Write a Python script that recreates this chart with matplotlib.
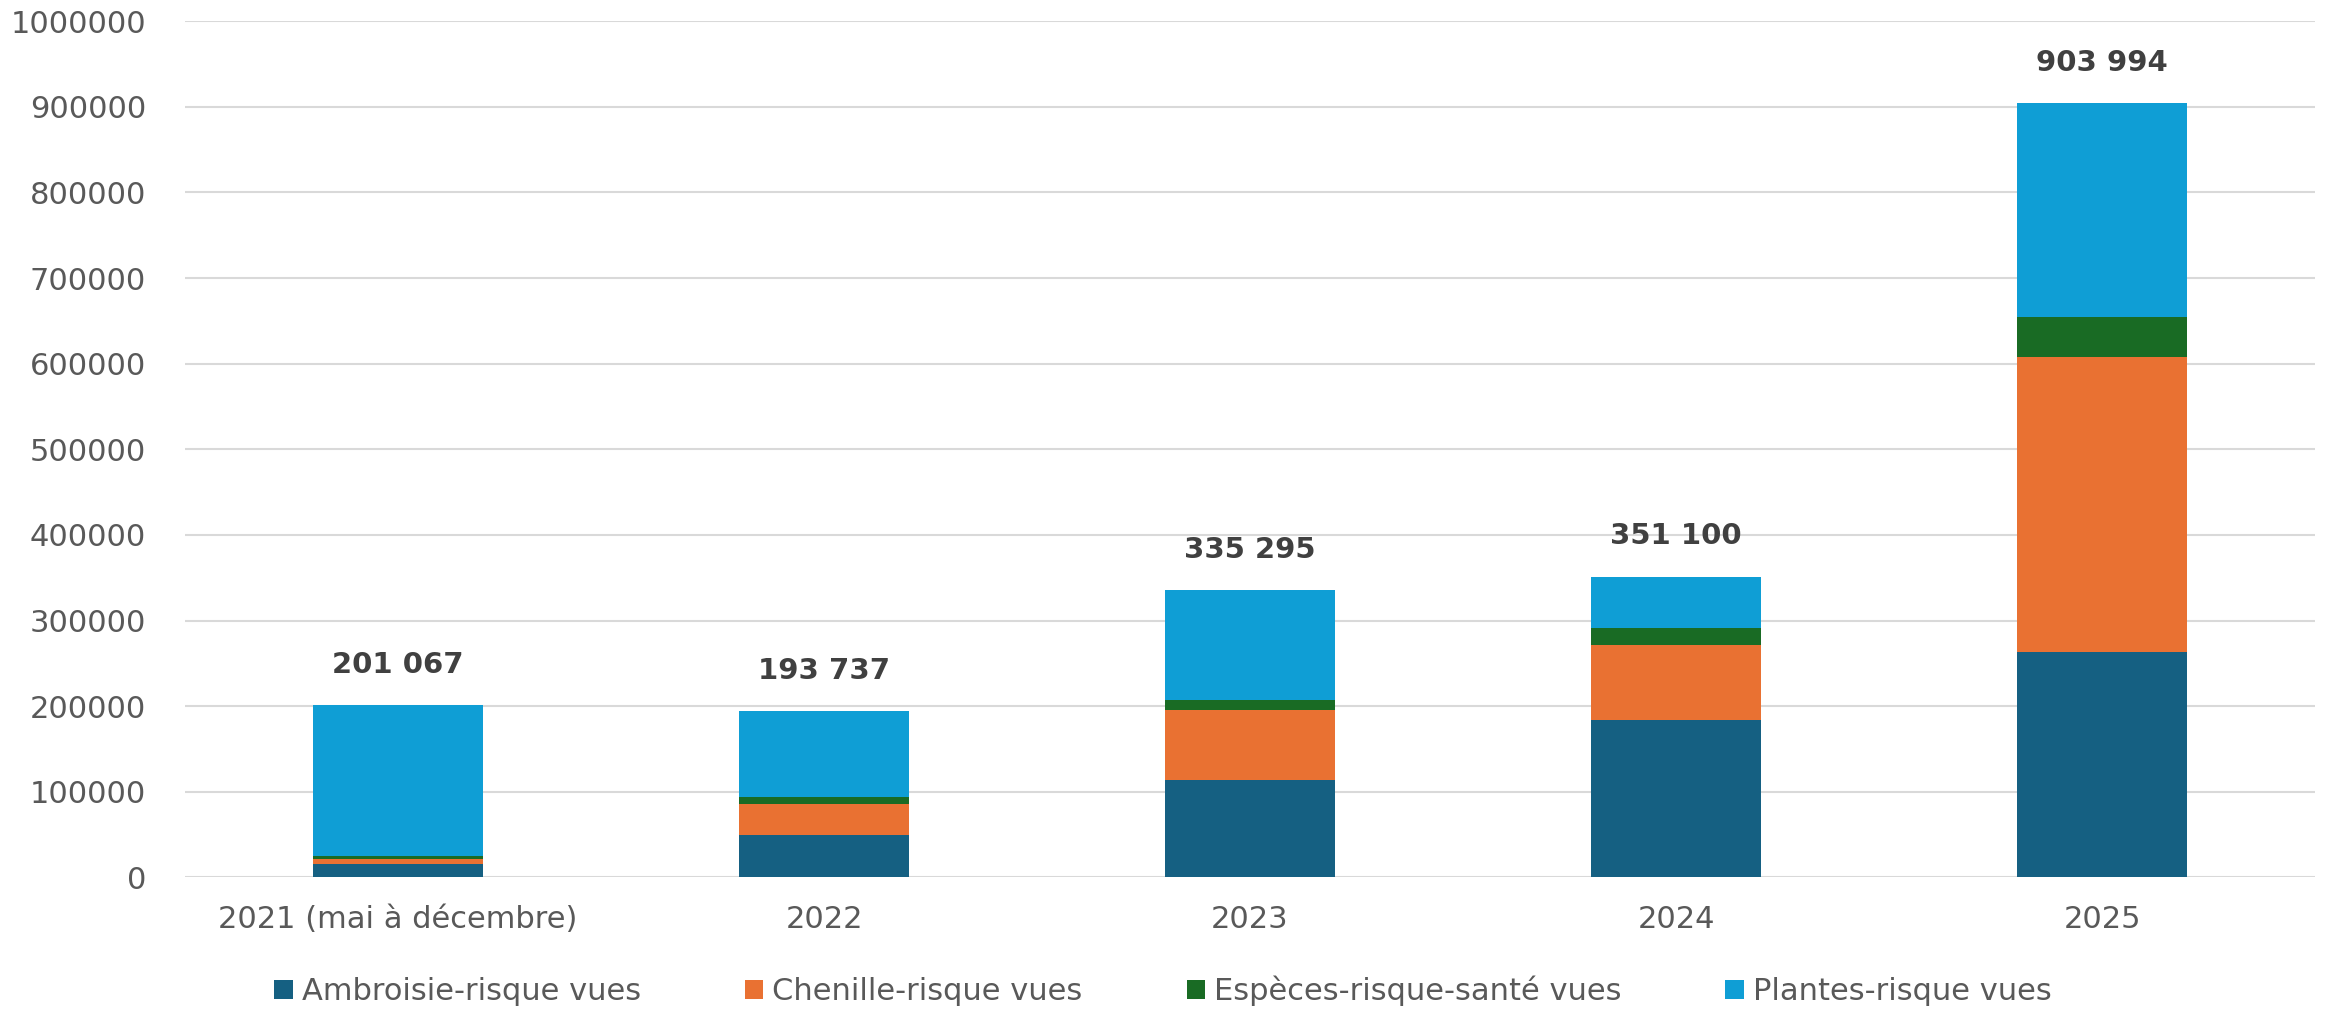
import matplotlib
matplotlib.use("Agg")
import matplotlib.pyplot as plt
import numpy as np

# data
years = ["2021 (mai à décembre)", "2022", "2023", "2024", "2025"]
ambroisie = [15600, 49100, 113300, 183400, 262700]
chenille = [5800, 37000, 82600, 87600, 344800]
especes = [3100, 7400, 10900, 19900, 46800]
totals = [201067, 193737, 335295, 351100, 903994]
plantes = [t - a - c - e for t, a, c, e in zip(totals, ambroisie, chenille, especes)]
total_labels = ["201 067", "193 737", "335 295", "351 100", "903 994"]

series_names = ["Ambroisie-risque vues", "Chenille-risque vues",
                "Espèces-risque-santé vues", "Plantes-risque vues"]
colors = ["#156082", "#E97132", "#196B24", "#0F9ED5"]

plt.rcParams['font.family'] = ['DejaVu Sans']
fig = plt.figure(figsize=(23.26, 10.13), dpi=100)
ax = fig.add_axes([185/2326, 1 - 877.3/1013, (2315-185)/2326, (877.3-21.3)/1013])

x = np.arange(len(years))
bottom = np.zeros(len(years))
for vals, name, col in zip([ambroisie, chenille, especes, plantes], series_names, colors):
    ax.bar(x, vals, 0.4, bottom=bottom, color=col, label=name, zorder=3)
    bottom += np.array(vals)

for xi, top, lab in zip(x, bottom, total_labels):
    ax.annotate(lab, (xi, top), xytext=(0, 29), textcoords="offset points",
                ha="center", va="center", fontsize=21, fontweight="bold", color="#404040")

ax.set_xlim(-0.5, len(years) - 0.5)
ax.set_ylim(0, 1000000)
ax.set_yticks(np.arange(0, 1000001, 100000))
ax.set_yticklabels([str(v) for v in range(0, 1000001, 100000)])
ax.set_xticks(x)
ax.set_xticklabels(years)
ax.tick_params(axis="both", length=0, labelsize=22, colors="#595959")
ax.tick_params(axis="y", pad=28)
ax.tick_params(axis="x", pad=20)
ax.grid(axis="y", color="#D9D9D9", linewidth=1.5, zorder=0)
for s in ax.spines.values():
    s.set_visible(False)

leg = fig.legend(loc="center", bbox_to_anchor=(0.5, 1 - 991/1013), ncol=4, frameon=False,
                 fontsize=22, handlelength=0.6, handleheight=0.6, handletextpad=0.3,
                 columnspacing=3.4, labelcolor="#595959")

fig.savefig("out.png", dpi=100)
